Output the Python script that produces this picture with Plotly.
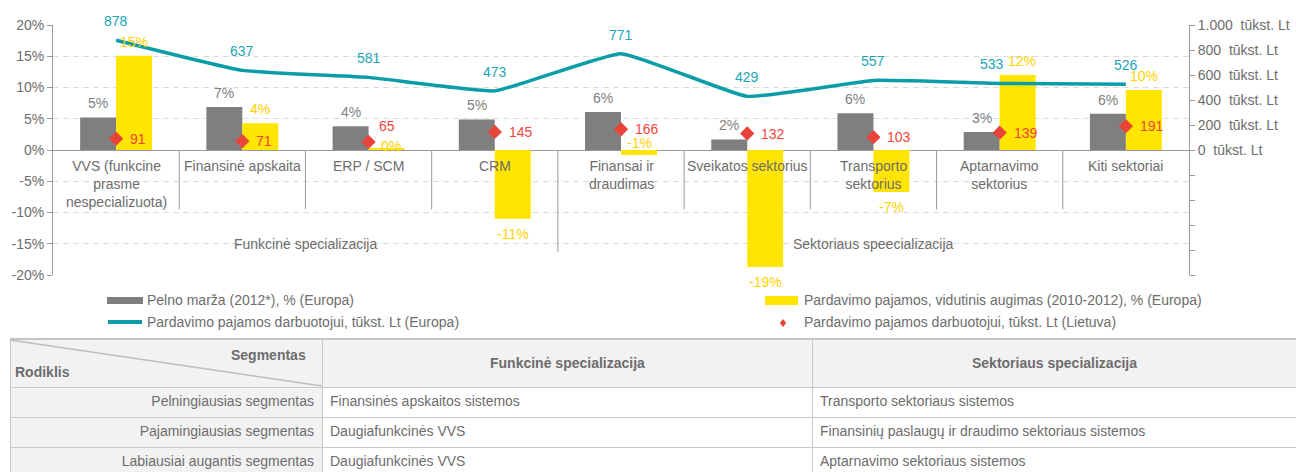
import plotly.graph_objects as go

# ---------------- data ----------------
categories = ["VVS (funkcine<br>prasme<br>nespecializuota)", "Finansinė apskaita", "ERP / SCM", "CRM",
              "Finansai ir<br>draudimas", "Sveikatos sektorius", "Transporto<br>sektorius",
              "Aptarnavimo<br>sektorius", "Kiti sektoriai"]
groups = ["Funkcinė specializacija", "Sektoriaus speecializacija"]
group_sizes = [4, 5]
profit_margin = [5.2, 6.9, 3.8, 4.9, 6.1, 1.7, 5.9, 2.9, 5.8]
revenue_growth = [15.1, 4.3, 0.2, -11.0, -0.8, -18.7, -6.7, 12.0, 9.6]
rev_per_emp_eu = [878, 637, 581, 473, 771, 429, 557, 533, 526]
rev_per_emp_lt = [91, 71, 65, 145, 166, 132, 103, 139, 191]
left_ticks = [-20, -15, -10, -5, 0, 5, 10, 15, 20]
right_ticks = [-1000, -800, -600, -400, -200, 0, 200, 400, 600, 800, 1000]
legend_names = ["Pelno marža (2012*), % (Europa)",
                "Pardavimo pajamos, vidutinis augimas (2010-2012), % (Europa)",
                "Pardavimo pajamos darbuotojui, tūkst. Lt (Europa)",
                "Pardavimo pajamos darbuotojui, tūkst. Lt (Lietuva)"]
table_header = ["", "Funkcinė specializacija", "Sektoriaus specializacija"]
table_corner = ["Segmentas", "Rodiklis"]
row_labels = ["Pelningiausias segmentas", "Pajamingiausias segmentas", "Labiausiai augantis segmentas"]
functional_col = ["Finansinės apskaitos sistemos", "Daugiafunkcinės VVS", "Daugiafunkcinės VVS"]
sectoral_col = ["Transporto sektoriaus sistemos",
                "Finansinių paslaugų ir draudimo sektoriaus sistemos",
                "Aptarnavimo sektoriaus sistemos"]

# ---------------- style ----------------
W, H = 1296, 472
FONT = "Liberation Sans, Arial, sans-serif"
GREY_BAR = "#7f7f7f"
YELLOW = "#FFE500"
YELLOW_TXT = "#FFD200"
TEAL = "#0A9DA8"
TEAL_TXT = "#21A6B6"
RED = "#E8443A"
RED_TXT = "#F0443A"
TXT = "#6d6d6d"
AXIS = "#9a9a9a"
COL_W = [312, 490, 484]
TABLE_X0 = 10
TABLE_TOP = 339
HEADER_H = 48
ROW_H = 30
# small label nudges (pixels) to keep crowded labels apart
GROWTH_NUDGE = {2: (4, -11), 7: (4, 0)}
EU_NUDGE = {7: (-8, 0)}
LT_NUDGE = {2: (-4, 16)}


def px(x):
    return x / W


def py(y):
    return 1 - y / H


xs = list(range(len(categories)))

fig = go.Figure()
fig.add_trace(go.Bar(x=xs, y=profit_margin, marker_color=GREY_BAR, name=legend_names[0],
                     marker_line_width=0, showlegend=False))
fig.add_trace(go.Bar(x=xs, y=revenue_growth, marker_color=YELLOW, name=legend_names[1],
                     marker_line_width=0, showlegend=False))
fig.add_trace(go.Scatter(x=xs, y=rev_per_emp_eu, mode="lines", yaxis="y2", name=legend_names[2],
                         line=dict(color=TEAL, width=3.5, shape="spline", smoothing=0.35),
                         showlegend=False))
fig.add_trace(go.Scatter(x=xs, y=rev_per_emp_lt, mode="markers", yaxis="y2", name=legend_names[3],
                         marker=dict(symbol="diamond", size=11, color=RED), showlegend=False))

# table (header titles are drawn as annotations so they can be vertically centred)
fig.add_trace(go.Table(
    domain=dict(x=[px(TABLE_X0), 1], y=[0, py(TABLE_TOP)]),
    columnwidth=COL_W,
    header=dict(values=["", "", ""],
                fill_color="#f2f2f2", line=dict(color="#c8c8c8", width=1),
                height=HEADER_H, font=dict(family=FONT, size=14, color=TXT)),
    cells=dict(values=[row_labels, functional_col, sectoral_col],
               fill_color=[["#f2f2f2"] * 3, ["white"] * 3, ["white"] * 3],
               line=dict(color="#c8c8c8", width=1),
               align=["right", "left", "left"], height=ROW_H,
               font=dict(family=FONT, size=14, color=TXT)),
))

ann = []
# value labels
for i in xs:
    v = profit_margin[i]
    ann.append(dict(x=i, y=v, xref="x", yref="y", text=f"{round(v):.0f}%", showarrow=False,
                    xshift=-18, yanchor="bottom", yshift=4,
                    font=dict(color=GREY_BAR, size=14)))
    g = revenue_growth[i]
    gx, gy = GROWTH_NUDGE.get(i, (0, 0))
    if g >= 0:
        ann.append(dict(x=i, y=g, xref="x", yref="y", text=f"{round(g):.0f}%", showarrow=False,
                        xshift=18 + gx, yanchor="bottom", yshift=4 + gy,
                        font=dict(color=YELLOW_TXT, size=14)))
    elif g > -3:
        ann.append(dict(x=i, y=0, xref="x", yref="y", text=f"{round(g):.0f}%", showarrow=False,
                        xshift=18 + gx, yanchor="middle", yshift=7 + gy,
                        font=dict(color=YELLOW_TXT, size=14)))
    else:
        ann.append(dict(x=i, y=g, xref="x", yref="y", text=f"{round(g):.0f}%", showarrow=False,
                        xshift=18 + gx, yanchor="top", yshift=-5 + gy,
                        font=dict(color=YELLOW_TXT, size=14)))
    ex, ey = EU_NUDGE.get(i, (0, 0))
    ann.append(dict(x=i, y=rev_per_emp_eu[i], xref="x", yref="y2", text=str(rev_per_emp_eu[i]),
                    showarrow=False, yanchor="bottom", yshift=9 + ey, xshift=ex,
                    font=dict(color=TEAL_TXT, size=14)))
    lx, ly = LT_NUDGE.get(i, (0, 0))
    ann.append(dict(x=i, y=rev_per_emp_lt[i], xref="x", yref="y2", text=str(rev_per_emp_lt[i]),
                    showarrow=False, xanchor="left", xshift=12 + lx, yshift=ly,
                    font=dict(color=RED_TXT, size=14)))
    # category labels
    ann.append(dict(x=i, y=0, xref="x", yref="y", text=categories[i], showarrow=False,
                    yanchor="top", yshift=-6, font=dict(color=TXT, size=14)))

# separators and group labels
shapes = []
start = 0
for gi, size in enumerate(group_sizes):
    end = start + size
    ann.append(dict(x=(start + end - 1) / 2, y=-15, xref="x", yref="y", text=groups[gi],
                    showarrow=False, font=dict(color=TXT, size=14)))
    for b in range(start, end):
        if b == len(categories) - 1:
            continue
        long = (b == end - 1)
        shapes.append(dict(type="line", xref="x", yref="y", x0=b + 0.5, x1=b + 0.5,
                           y0=0, y1=-16.3 if long else -9.5,
                           line=dict(color=AXIS, width=1)))
    start = end

# legend (manual)
shapes.append(dict(type="rect", xref="paper", yref="paper", x0=px(107), x1=px(143),
                   y0=py(304), y1=py(297), fillcolor=GREY_BAR, line_width=0))
shapes.append(dict(type="line", xref="paper", yref="paper", x0=px(108), x1=px(142),
                   y0=py(322), y1=py(322), line=dict(color=TEAL, width=4)))
shapes.append(dict(type="rect", xref="paper", yref="paper", x0=px(765), x1=px(798),
                   y0=py(305), y1=py(296), fillcolor=YELLOW, line_width=0))
cx, cy, d = 783, 323, 4
shapes.append(dict(type="path", xref="paper", yref="paper",
                   path=f"M{px(cx)},{py(cy - d)} L{px(cx + d * 0.8)},{py(cy)} L{px(cx)},{py(cy + d)} L{px(cx - d * 0.8)},{py(cy)} Z",
                   fillcolor=RED, line_width=0))
for name, x, y in [(legend_names[0], 145, 300), (legend_names[2], 145, 322),
                   (legend_names[1], 802, 300), (legend_names[3], 802, 322)]:
    ann.append(dict(x=px(x), y=py(y), xref="paper", yref="paper", text=name, showarrow=False,
                    xanchor="left", yanchor="middle", font=dict(color=TXT, size=14)))

# table header: corner cell + column titles
col_edges = [TABLE_X0]
for w in COL_W:
    col_edges.append(col_edges[-1] + w)
shapes.append(dict(type="line", xref="paper", yref="paper", x0=px(TABLE_X0), x1=px(col_edges[1]),
                   y0=py(TABLE_TOP + 1), y1=py(TABLE_TOP + HEADER_H - 1),
                   line=dict(color="#bdbdbd", width=1.5)))
shapes.append(dict(type="line", xref="paper", yref="paper", x0=px(TABLE_X0), x1=1,
                   y0=py(TABLE_TOP), y1=py(TABLE_TOP), line=dict(color="#c4c4c4", width=2)))
ann.append(dict(x=px(col_edges[1] - 14), y=py(TABLE_TOP + 16), xref="paper", yref="paper",
                text="<b>%s</b>" % table_corner[0], showarrow=False,
                xanchor="right", yanchor="middle", font=dict(color=TXT, size=14)))
ann.append(dict(x=px(TABLE_X0 + 3), y=py(TABLE_TOP + 33), xref="paper", yref="paper",
                text="<b>%s</b>" % table_corner[1], showarrow=False,
                xanchor="left", yanchor="middle", font=dict(color=TXT, size=14)))
for c in (1, 2):
    ann.append(dict(x=px((col_edges[c] + col_edges[c + 1]) / 2), y=py(TABLE_TOP + HEADER_H / 2),
                    xref="paper", yref="paper", text="<b>%s</b>" % table_header[c],
                    showarrow=False, xanchor="center", yanchor="middle",
                    font=dict(color=TXT, size=14)))

right_text = [("" if v < 0 else (f"{v:,}".replace(",", ".") + "\u00a0\u00a0tūkst. Lt")) for v in right_ticks]

fig.update_layout(
    width=W, height=H, margin=dict(l=0, r=0, t=0, b=0), autosize=False,
    paper_bgcolor="white", plot_bgcolor="white",
    font=dict(family=FONT, size=14, color=TXT),
    barmode="group", bargap=0.43, bargroupgap=0,
    xaxis=dict(domain=[px(53), px(1189)], range=[-0.5, len(categories) - 0.5],
               showticklabels=False, showgrid=False, zeroline=False, showline=False, ticks="",
               automargin=False),
    yaxis=dict(domain=[py(275), py(25)], range=[-20, 20], tickvals=left_ticks,
               ticktext=[f"{v}%" for v in left_ticks], automargin=False,
               showline=True, linecolor=AXIS, linewidth=1, ticks="outside", ticklen=5,
               tickcolor=AXIS, showgrid=True, gridcolor="#dcdcdc", griddash="6px,4px",
               zeroline=True, zerolinecolor=AXIS, zerolinewidth=1,
               tickfont=dict(size=14, color=TXT)),
    yaxis2=dict(overlaying="y", side="right", anchor="x", range=[-1000, 1000], automargin=False,
                tickvals=right_ticks, ticktext=right_text, showgrid=False, zeroline=False,
                showline=True, linecolor=AXIS, linewidth=1, ticks="outside", ticklen=5,
                tickcolor=AXIS, tickfont=dict(size=14, color=TXT)),
    annotations=ann, shapes=shapes,
)

fig.write_html("out.html", config={"displayModeBar": False},
               post_script="document.body.style.margin='0px';document.body.style.overflow='hidden';")
